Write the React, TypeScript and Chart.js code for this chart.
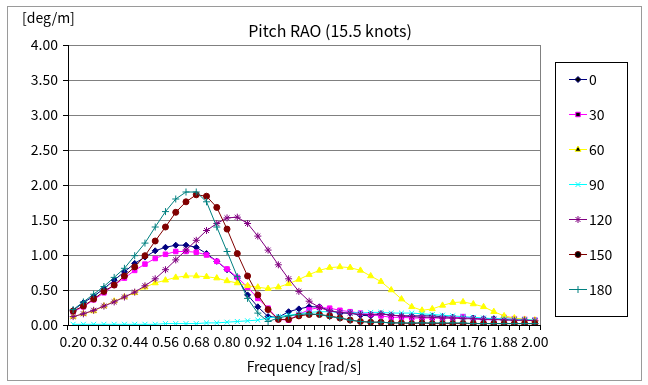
import React, { useEffect, useRef } from "react";
import { Chart, registerables } from "chart.js";
import { drawPoint } from "chart.js/helpers";

Chart.register(...registerables);

const FONT = '"Noto Sans CJK KR", "Noto Sans", sans-serif';

const frequencies = [
  "0.20", "0.24", "0.28", "0.32", "0.36", "0.40", "0.44", "0.48", "0.52", "0.56",
  "0.60", "0.64", "0.68", "0.72", "0.76", "0.80", "0.84", "0.88", "0.92", "0.96",
  "1.00", "1.04", "1.08", "1.12", "1.16", "1.20", "1.24", "1.28", "1.32", "1.36",
  "1.40", "1.44", "1.48", "1.52", "1.56", "1.60", "1.64", "1.68", "1.72", "1.76",
  "1.80", "1.84", "1.88", "1.92", "1.96", "2.00",
];

const heading0 = [
  0.21, 0.32, 0.41, 0.52, 0.64, 0.76, 0.88, 0.97, 1.06, 1.11,
  1.14, 1.14, 1.11, 1.02, 0.91, 0.79, 0.67, 0.43, 0.26, 0.12,
  0.11, 0.19, 0.23, 0.26, 0.26, 0.21, 0.17, 0.17, 0.14, 0.13,
  0.16, 0.14, 0.13, 0.13, 0.13, 0.13, 0.12, 0.11, 0.11, 0.10,
  0.09, 0.09, 0.08, 0.07, 0.07, 0.06,
];
const heading30 = [
  0.19, 0.26, 0.36, 0.46, 0.57, 0.67, 0.78, 0.87, 0.95, 1.01,
  1.05, 1.05, 1.04, 1.00, 0.91, 0.80, 0.68, 0.54, 0.38, 0.24,
  0.08, 0.07, 0.15, 0.22, 0.25, 0.24, 0.21, 0.19, 0.17, 0.15,
  0.13, 0.11, 0.11, 0.10, 0.10, 0.10, 0.10, 0.10, 0.12, 0.09,
  0.08, 0.07, 0.11, 0.09, 0.08, 0.07,
];
const heading60 = [
  0.12, 0.16, 0.20, 0.27, 0.34, 0.40, 0.46, 0.54, 0.60, 0.64,
  0.68, 0.70, 0.70, 0.69, 0.67, 0.63, 0.60, 0.56, 0.54, 0.52,
  0.54, 0.59, 0.65, 0.72, 0.78, 0.82, 0.83, 0.82, 0.78, 0.70,
  0.62, 0.50, 0.37, 0.26, 0.21, 0.23, 0.28, 0.32, 0.33, 0.30,
  0.26, 0.19, 0.13, 0.10, 0.08, 0.07,
];
const heading90 = [
  0.01, 0.01, 0.01, 0.01, 0.01, 0.01, 0.01, 0.01, 0.01, 0.02,
  0.02, 0.02, 0.02, 0.03, 0.03, 0.04, 0.05, 0.06, 0.07, 0.10,
  0.12, 0.14, 0.16, 0.18, 0.19, 0.19, 0.18, 0.18, 0.17, 0.18,
  0.18, 0.17, 0.17, 0.17, 0.16, 0.15, 0.14, 0.13, 0.12, 0.11,
  0.10, 0.09, 0.09, 0.08, 0.08, 0.07,
];
const heading120 = [
  0.12, 0.16, 0.21, 0.27, 0.33, 0.40, 0.47, 0.56, 0.66, 0.79,
  0.93, 1.07, 1.21, 1.35, 1.45, 1.53, 1.54, 1.45, 1.27, 1.07,
  0.86, 0.66, 0.48, 0.34, 0.25, 0.20, 0.18, 0.17, 0.15, 0.15,
  0.16, 0.14, 0.13, 0.12, 0.11, 0.11, 0.10, 0.10, 0.09, 0.09,
  0.08, 0.08, 0.07, 0.07, 0.07, 0.06,
];
const heading150 = [
  0.20, 0.27, 0.37, 0.48, 0.57, 0.70, 0.83, 0.99, 1.20, 1.40,
  1.61, 1.76, 1.86, 1.84, 1.68, 1.37, 1.02, 0.70, 0.43, 0.22,
  0.08, 0.08, 0.13, 0.15, 0.15, 0.13, 0.10, 0.07, 0.05, 0.04,
  0.04, 0.03, 0.03, 0.02, 0.03, 0.02, 0.02, 0.02, 0.02, 0.02,
  0.02, 0.02, 0.02, 0.02, 0.02, 0.02,
];
const heading180 = [
  0.22, 0.33, 0.44, 0.55, 0.68, 0.81, 0.99, 1.17, 1.40, 1.62,
  1.80, 1.90, 1.90, 1.76, 1.40, 1.05, 0.69, 0.38, 0.17, 0.05,
  0.10, 0.13, 0.15, 0.16, 0.15, 0.12, 0.10, 0.07, 0.05, 0.04,
  0.04, 0.03, 0.03, 0.03, 0.03, 0.03, 0.03, 0.03, 0.03, 0.02,
  0.02, 0.02, 0.02, 0.02, 0.02, 0.02,
];

const seriesNames = ["0", "30", "60", "90", "120", "150", "180"];
const seriesValues = [heading0, heading30, heading60, heading90, heading120, heading150, heading180];
const seriesColors = ["#000080", "#FF00FF", "#FFFF00", "#00FFFF", "#800080", "#800000", "#008080"];
const seriesMarkers = ["rectRot", "rect", "triangle", "crossRot", "star", "circle", "cross"];
const seriesMarkerSizes = [3, 3.2, 3.5, 3.5, 3.5, 3, 3.5];

const chartTitle = "Pitch RAO (15.5 knots)";
const yUnit = "[deg/m]";
const xTitle = "Frequency [rad/s]";

const decorPlugin = {
  id: "decor",
  beforeDraw(chart: any) {
    const ctx = chart.ctx;
    ctx.save();
    ctx.fillStyle = "#ffffff";
    ctx.fillRect(0, 0, chart.width, chart.height);
    ctx.restore();
  },
  afterDatasetsDraw(chart: any) {
    const ctx = chart.ctx;
    const a = chart.chartArea;
    ctx.save();
    // plot area right border
    ctx.strokeStyle = "#808080";
    ctx.lineWidth = 1;
    ctx.beginPath();
    ctx.moveTo(Math.round(a.right) + 0.5, a.top);
    ctx.lineTo(Math.round(a.right) + 0.5, a.bottom);
    ctx.stroke();
    ctx.restore();
  },
  afterDraw(chart: any) {
    const ctx = chart.ctx;
    ctx.save();
    // outer chart border
    ctx.strokeStyle = "#9a9a9a";
    ctx.lineWidth = 1;
    ctx.strokeRect(7.5, 6.5, 634, 374);

    // title
    ctx.fillStyle = "#000";
    ctx.textBaseline = "middle";
    ctx.textAlign = "center";
    ctx.font = `16px ${FONT}`;
    ctx.fillText(chartTitle, 330, 31);

    // unit label
    ctx.textAlign = "left";
    ctx.font = `14px ${FONT}`;
    ctx.fillText(yUnit, 22, 18);

    // legend box
    ctx.strokeStyle = "#000";
    ctx.strokeRect(555.5, 62.5, 72, 254);
    const datasets = chart.data.datasets;
    datasets.forEach((ds: any, i: number) => {
      const y = 79 + i * 35;
      ctx.strokeStyle = ds.borderColor;
      ctx.lineWidth = 1;
      ctx.beginPath();
      ctx.moveTo(569, y + 0.5);
      ctx.lineTo(587, y + 0.5);
      ctx.stroke();
      drawPoint(ctx, {
        pointStyle: ds.pointStyle,
        radius: ds.pointRadius,
        borderWidth: 1,
        rotation: 0,
      } as any, 578, y + 0.5);
      ctx.fillStyle = "#000";
      ctx.font = `14px ${FONT}`;
      ctx.textAlign = "left";
      ctx.textBaseline = "middle";
      ctx.fillText(ds.label, 589, y + 1);
    });
    ctx.restore();
  },
};

export default function App() {
  const ref = useRef<HTMLCanvasElement | null>(null);

  useEffect(() => {
    document.body.style.margin = "0";
    const canvas = ref.current;
    if (!canvas) return;
    Chart.defaults.font.family = FONT;
    const chart = new Chart(canvas, {
      type: "line",
      data: {
        labels: frequencies,
        datasets: seriesNames.map((name, i) => ({
          label: name,
          data: seriesValues[i],
          borderColor: seriesColors[i],
          backgroundColor: seriesColors[i],
          pointBackgroundColor: seriesColors[i],
          pointBorderColor: seriesColors[i],
          pointStyle: seriesMarkers[i],
          pointRadius: seriesMarkerSizes[i],
          pointBorderWidth: 1,
          borderWidth: 1,
          tension: 0,
          fill: false,
          order: seriesNames.length - i,
        })),
      },
      options: {
        animation: false,
        responsive: false,
        devicePixelRatio: 1,
        events: [],
        layout: { padding: { left: 0, top: 45, right: 108, bottom: 0 } },
        plugins: {
          legend: { display: false },
          title: { display: false },
          tooltip: { enabled: false },
        },
        scales: {
          x: {
            type: "category",
            offset: true,
            grid: {
              display: true,
              drawOnChartArea: false,
              drawTicks: true,
              tickLength: 5,
              color: "#000",
              offset: true,
            },
            border: { display: true, color: "#000", width: 1 },
            ticks: {
              autoSkip: false,
              maxRotation: 0,
              minRotation: 0,
              padding: 3,
              color: "#000",
              font: { size: 14, family: FONT },
              callback: (_v: any, i: number) => (i % 3 === 0 ? frequencies[i] : ""),
            },
            title: {
              display: true,
              text: xTitle,
              color: "#000",
              font: { size: 14, family: FONT },
              padding: { top: 0, bottom: 10 },
            },
            afterFit: (s: any) => {
              s.height = 60;
            },
          },
          y: {
            min: 0,
            max: 4,
            ticks: {
              stepSize: 0.5,
              padding: 5,
              color: "#000",
              font: { size: 14, family: FONT },
              callback: (v: any) => Number(v).toFixed(2),
            },
            grid: {
              color: (c: any) => (c.tick && c.tick.value === 0 ? "rgba(0,0,0,0)" : "#808080"),
              tickColor: "#000",
              tickLength: 5,
              lineWidth: 1,
            },
            border: { display: true, color: "#000", width: 1 },
            afterFit: (s: any) => {
              s.width = 68;
            },
          },
        },
      } as any,
      plugins: [decorPlugin],
    });
    return () => chart.destroy();
  }, []);

  return (
    <div style={{ width: 648, height: 385 }}>
      <canvas ref={ref} width={648} height={385} style={{ display: "block", width: 648, height: 385 }} />
    </div>
  );
}
